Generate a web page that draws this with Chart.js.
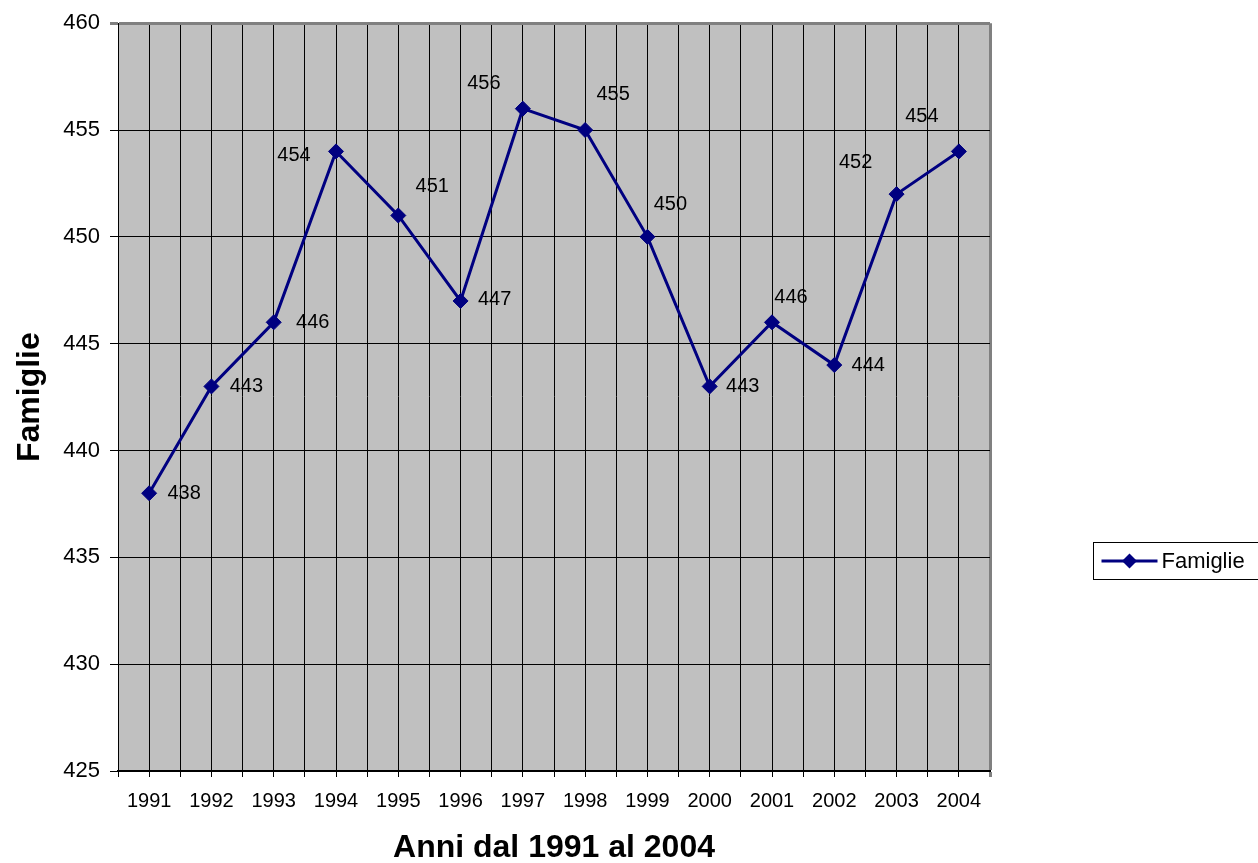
<!DOCTYPE html>
<html lang="it">
<head>
<meta charset="utf-8">
<title>Famiglie 1991-2004</title>
<script src="https://cdn.jsdelivr.net/npm/chart.js@4/dist/chart.umd.min.js"></script>
<style>
  html, body { margin: 0; padding: 0; background: #ffffff; }
  #wrap { width: 1258px; height: 863px; position: relative; }
</style>
</head>
<body>
<div id="wrap"><canvas id="chart" width="1258" height="863"></canvas></div>
<script>
// Numero di famiglie per anno
const years = ['1991', '1992', '1993', '1994', '1995', '1996', '1997',
               '1998', '1999', '2000', '2001', '2002', '2003', '2004'];
const famiglie = [438, 443, 446, 454, 451, 447, 456, 455, 450, 443, 446, 444, 452, 454];
const yTicks = [425, 430, 435, 440, 445, 450, 455, 460];
const seriesLabel = 'Famiglie';

// Spostamento delle etichette dei valori rispetto al punto (px)
const labelShift = [
  [35, 0], [35, 0], [39, 0], [-42, 4], [34, -29], [34, -1], [-39, -25],
  [28, -36], [23, -32], [33, 0], [19, -25], [34, 0], [-41, -32], [-37, -35]
];

const NAVY = '#000080';
const FONT = '"Liberation Sans", Arial, sans-serif';

// Ogni anno occupa un'unità dell'asse; il punto sta al centro
const points = famiglie.map((v, i) => ({ x: i + 0.5, y: v }));

const plotBackground = {
  id: 'plotBackground',
  beforeDraw(chart) {
    const { ctx, chartArea: a } = chart;
    ctx.save();
    ctx.fillStyle = '#c0c0c0';
    ctx.fillRect(a.left, a.top, a.right - a.left, a.bottom - a.top);
    ctx.restore();
  }
};

const valueLabels = {
  id: 'valueLabels',
  afterDatasetsDraw(chart) {
    const { ctx } = chart;
    const meta = chart.getDatasetMeta(0);
    ctx.save();
    ctx.font = '20px ' + FONT;
    ctx.fillStyle = '#000';
    ctx.textAlign = 'center';
    ctx.textBaseline = 'middle';
    meta.data.forEach((pt, i) => {
      const [dx, dy] = labelShift[i];
      ctx.fillText(String(famiglie[i]), pt.x + dx, pt.y + dy);
    });
    ctx.restore();
  }
};

const boxLegend = {
  id: 'boxLegend',
  afterDraw(chart) {
    const { ctx } = chart;
    const x = 1093.5, y = 542.5, w = 170, h = 37;
    const cy = y + h / 2;
    ctx.save();
    ctx.strokeStyle = '#000';
    ctx.lineWidth = 1;
    ctx.strokeRect(x, y, w, h);
    ctx.strokeStyle = NAVY;
    ctx.lineWidth = 3;
    ctx.beginPath();
    ctx.moveTo(x + 8, cy);
    ctx.lineTo(x + 64, cy);
    ctx.stroke();
    ctx.fillStyle = NAVY;
    ctx.beginPath();
    const mx = x + 36, r = 7.5;
    ctx.moveTo(mx, cy - r);
    ctx.lineTo(mx + r, cy);
    ctx.lineTo(mx, cy + r);
    ctx.lineTo(mx - r, cy);
    ctx.closePath();
    ctx.fill();
    ctx.fillStyle = '#000';
    ctx.font = '22px ' + FONT;
    ctx.textAlign = 'left';
    ctx.textBaseline = 'middle';
    ctx.fillText(seriesLabel, x + 68, cy + 1);
    ctx.restore();
  }
};

new Chart(document.getElementById('chart'), {
  type: 'line',
  data: {
    datasets: [{
      label: seriesLabel,
      data: points,
      borderColor: NAVY,
      backgroundColor: NAVY,
      borderWidth: 3,
      pointStyle: 'rectRot',
      pointRadius: 7.5,
      pointHoverRadius: 7.5,
      pointBackgroundColor: NAVY,
      pointBorderColor: NAVY,
      pointBorderWidth: 1,
      tension: 0,
      fill: false
    }]
  },
  options: {
    responsive: false,
    animation: false,
    events: [],
    layout: { padding: { left: 0, top: 22, right: 268, bottom: 0 } },
    plugins: {
      legend: { display: false },
      tooltip: { enabled: false }
    },
    scales: {
      x: {
        type: 'linear',
        min: 0,
        max: years.length,
        afterFit(scale) { scale.height = 92; },
        ticks: {
          stepSize: 0.5,
          autoSkip: false,
          maxRotation: 0,
          padding: 12,
          color: '#000',
          font: { family: FONT, size: 20 },
          callback(value) {
            const i = value - 0.5;
            return Number.isInteger(i) ? years[i] : '';
          }
        },
        grid: {
          color: ctx => (ctx.tick && ctx.tick.value === years.length ? '#808080' : '#000'),
          lineWidth: ctx => (ctx.tick && ctx.tick.value === years.length ? 3 : 1),
          tickLength: 6,
          drawTicks: true
        },
        border: { color: '#000', width: 2 },
        title: {
          display: true,
          text: 'Anni dal 1991 al 2004',
          color: '#000',
          font: { family: FONT, size: 32, weight: 'bold', lineHeight: 0.95 },
          padding: { top: 0, bottom: 0 }
        }
      },
      y: {
        type: 'linear',
        min: yTicks[0],
        max: yTicks[yTicks.length - 1],
        afterFit(scale) { scale.width = 118; },
        afterBuildTicks(scale) { scale.ticks = yTicks.map(v => ({ value: v })); },
        ticks: {
          padding: 10,
          color: '#000',
          font: { family: FONT, size: 22 }
        },
        grid: {
          color: ctx => (ctx.tick && ctx.tick.value === 460 ? '#808080' : '#000'),
          lineWidth: ctx => (ctx.tick && ctx.tick.value === 460 ? 3 : 1),
          tickLength: 8,
          drawTicks: true
        },
        border: { color: '#000', width: 1 },
        title: {
          display: true,
          text: 'Famiglie',
          color: '#000',
          font: { family: FONT, size: 32, weight: 'bold' },
          padding: { top: 11, bottom: 0 }
        }
      }
    }
  },
  plugins: [plotBackground, valueLabels, boxLegend]
});
</script>
</body>
</html>
